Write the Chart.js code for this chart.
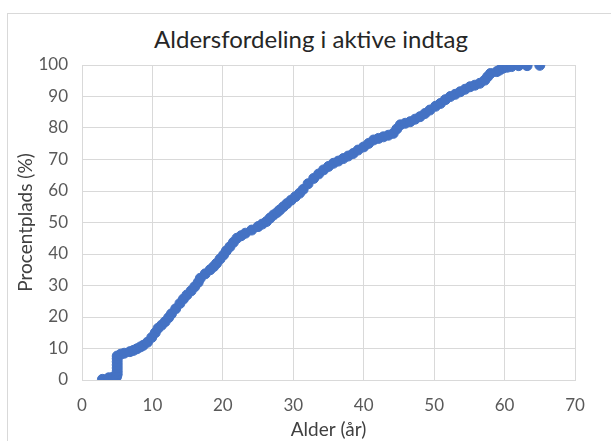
<!DOCTYPE html>
<html>
<head>
<meta charset="utf-8">
<script src="https://cdn.jsdelivr.net/npm/chart.js@4"></script>
<style>
  body { margin: 0; background: #fff; }
  .frame { position: absolute; left: 7px; top: 13px; width: 620px; height: 450px; border: 1px solid #d9d9d9; }
  .wrap { position: absolute; left: 0; top: 0; width: 611px; height: 441px; }
  .title { position: absolute; left: 7px; width: 608px; top: 25px; text-align: center;
           font: 24px/28px Lato, "Liberation Sans", sans-serif; color: #262626; }
</style>
</head>
<body>
<div class="frame"></div>
<div class="title">Aldersfordeling i aktive indtag</div>
<div class="wrap"><canvas id="chart" width="611" height="441"></canvas></div>
<script>
// ages (x) and percentile (y)
const ages = [2.9, 3.8, 4.4, 4.9, 5, 5, 5, 5, 5, 5, 5, 5.5, 6, 6.8, 7.3, 7.8, 8.3, 8.7, 9.3, 9.9,
  10.4, 10.8, 11.3, 11.8, 12.3, 12.7, 13.3, 13.9, 14.4, 14.9, 15.5, 16, 16.5, 16.8, 17.5, 18.2, 18.7, 19.1, 19.6, 20.1,
  20.5, 21, 21.5, 22, 22.6, 23.2, 24.1, 25, 25.6, 26.2, 26.7, 27.2, 27.7, 28.1, 28.6, 29.1, 29.7, 30.3, 30.9, 31.4,
  32.1, 32.9, 33.6, 34.3, 35, 35.7, 36.4, 37.1, 37.8, 38.5, 39.2, 40, 40.7, 41.4, 42.1, 42.8, 43.5, 44.2, 44.7, 45.2,
  45.9, 46.6, 47.3, 48, 48.7, 49.4, 50.2, 50.9, 51.6, 52.3, 53, 53.7, 54.4, 55.1, 55.8, 56.5, 57.2, 57.6, 58, 58.9,
  59.3, 59.8, 60.4, 61, 62, 63.2, 65];
const percents = [0.2, 0.7, 0.9, 1, 1.8, 2.8, 3.8, 4.8, 5.8, 6.8, 7.6, 8.2, 8.5, 9, 9.4, 9.9, 10.5, 11, 12, 13.5,
  15, 16.4, 17.4, 18.5, 19.8, 21, 22.6, 24.3, 25.7, 27, 28.3, 29.6, 31, 32.3, 33.7, 35, 36, 37, 38.4, 39.7,
  41, 42.3, 43.7, 45, 45.8, 46.6, 47.6, 48.7, 49.5, 50.3, 51.4, 52.4, 53.2, 54, 55, 56, 57.1, 58.2, 59.3, 60.5,
  62.3, 64, 65.4, 66.7, 67.8, 68.8, 69.5, 70.3, 71.1, 71.9, 73, 74, 75.1, 76.2, 76.7, 77.2, 77.7, 78.3, 79.7, 81,
  81.5, 82, 82.8, 83.6, 84.6, 85.7, 86.9, 87.8, 89, 90, 90.7, 91.5, 92.3, 93.1, 93.6, 94.2, 95.2, 96.3, 97.3, 97.9,
  98.4, 99, 99.3, 99.5, 99.8, 99.8, 99.9];
const xTicks = [0, 10, 20, 30, 40, 50, 60, 70];
const yTicks = [0, 10, 20, 30, 40, 50, 60, 70, 80, 90, 100];

const points = ages.map((a, i) => ({ x: a, y: percents[i] }));
const font = 'Lato, "Liberation Sans", sans-serif';
const gridColor = '#d9d9d9';

new Chart(document.getElementById('chart'), {
  type: 'scatter',
  data: {
    datasets: [{
      data: points,
      backgroundColor: '#4472c4',
      borderColor: '#4472c4',
      pointRadius: 5,
      pointHoverRadius: 5
    }]
  },
  options: {
    responsive: false,
    animation: false,
    layout: { padding: { top: 65, right: 36, bottom: 0, left: 0 } },
    plugins: {
      legend: { display: false },
      tooltip: { enabled: false }
    },
    scales: {
      x: {
        type: 'linear',
        min: 0,
        max: 70,
        afterBuildTicks: s => { s.ticks = xTicks.map(v => ({ value: v })); },
        afterFit: s => { s.height = 61; },
        grid: { color: gridColor, drawTicks: false },
        border: { color: gridColor },
        ticks: { color: '#595959', font: { family: font, size: 17 }, padding: 15 },
        title: {
          display: true,
          text: 'Alder (år)',
          color: '#404040',
          font: { family: font, size: 19 },
          padding: { top: 0, bottom: 0 }
        }
      },
      y: {
        type: 'linear',
        min: 0,
        max: 100,
        afterBuildTicks: s => { s.ticks = yTicks.map(v => ({ value: v })); },
        afterFit: s => { s.width = 82; },
        grid: { color: gridColor, drawTicks: false },
        border: { color: gridColor },
        ticks: { color: '#595959', font: { family: font, size: 17 }, padding: 14 },
        title: {
          display: true,
          text: 'Procentplads (%)',
          color: '#404040',
          font: { family: font, size: 19 },
          padding: { top: 14, bottom: 0 }
        }
      }
    }
  }
});
</script>
</body>
</html>
